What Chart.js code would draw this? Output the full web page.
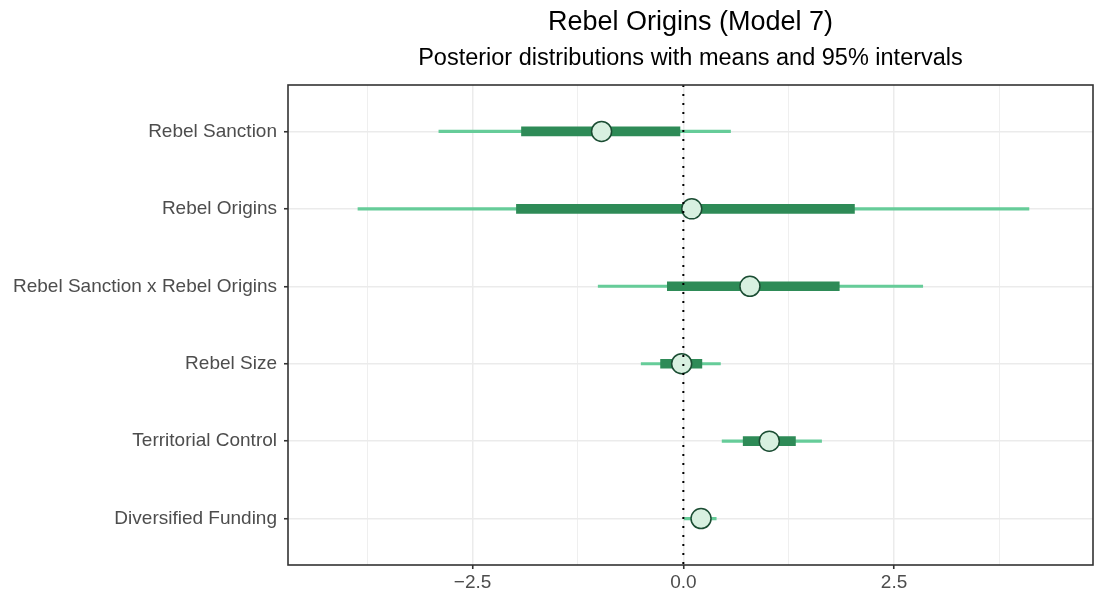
<!DOCTYPE html>
<html>
<head>
<meta charset="utf-8">
<script src="https://cdn.jsdelivr.net/npm/chart.js@4.4.0/dist/chart.umd.min.js"></script>
<style>
  html, body { margin: 0; padding: 0; background: #fff; }
</style>
</head>
<body>
<canvas id="myChart" width="1094" height="596"></canvas>
<script>
// model terms, top to bottom
const terms = ['Rebel Sanction', 'Rebel Origins', 'Rebel Sanction x Rebel Origins',
               'Rebel Size', 'Territorial Control', 'Diversified Funding'];
// posterior means
const means = [-0.97, 0.10, 0.79, -0.02, 1.02, 0.21];
// inner (thick) interval
const innerLow  = [-1.92, -1.98, -0.19, -0.27, 0.71, 0.11];
const innerHigh = [-0.04,  2.03,  1.85,  0.22, 1.33, 0.31];
// 95% interval (thin)
const outerLow  = [-2.90, -3.86, -1.01, -0.50, 0.46, 0.01];
const outerHigh = [ 0.56,  4.10,  2.84,  0.44, 1.64, 0.39];
// x axis ticks, labels only on the major ones
const xTicks  = [-3.75, -2.5, -1.25, 0, 1.25, 2.5, 3.75];
const xLabels = ['', '\u22122.5', '', '0.0', '', '2.5', ''];

const FONT = '"Liberation Sans", Arial, Helvetica, sans-serif';

// panel border, dotted zero line and the two title lines
const framePlugin = {
    id: 'frame',
    afterDatasetsDraw(chart) {
        const { ctx, chartArea: a, scales: { x } } = chart;
        const zx = x.getPixelForValue(0);
        ctx.save();
        ctx.strokeStyle = '#000';
        ctx.lineWidth = 2;
        ctx.setLineDash([2, 7]);
        ctx.beginPath();
        ctx.moveTo(zx, a.top);
        ctx.lineTo(zx, a.bottom);
        ctx.stroke();
        ctx.setLineDash([]);
        ctx.strokeStyle = '#333';
        ctx.lineWidth = 1.6;
        ctx.strokeRect(a.left, a.top, a.right - a.left, a.bottom - a.top);
        ctx.restore();
    },
    afterDraw(chart) {
        const { ctx, chartArea: a } = chart;
        const cx = (a.left + a.right) / 2;
        ctx.save();
        ctx.fillStyle = '#000';
        ctx.textAlign = 'center';
        ctx.textBaseline = 'middle';
        ctx.font = '27px ' + FONT;
        ctx.fillText('Rebel Origins (Model 7)', cx, 23);
        ctx.font = '23.5px ' + FONT;
        ctx.fillText('Posterior distributions with means and 95% intervals', cx, 59);
        ctx.restore();
    }
};

const ctx = document.getElementById('myChart').getContext('2d');
const myChart = new Chart(ctx, {
    type: 'bar',
    data: {
        datasets: [{
            type: 'scatter',
            data: means.map((m, i) => ({ x: m, y: i })),
            pointRadius: 10,
            pointBackgroundColor: '#d8f0e0',
            pointBorderColor: '#1b4d33',
            pointBorderWidth: 1.5,
            order: 0
        }, {
            indexAxis: 'y',
            data: innerLow.map((lo, i) => ({ x: [lo, innerHigh[i]], y: i })),
            backgroundColor: '#2e8b57',
            barThickness: 9,
            grouped: false,
            order: 1
        }, {
            indexAxis: 'y',
            data: outerLow.map((lo, i) => ({ x: [lo, outerHigh[i]], y: i })),
            backgroundColor: '#66cc99',
            barThickness: 2.5,
            grouped: false,
            order: 2
        }]
    },
    options: {
        responsive: false,
        devicePixelRatio: 1,
        animation: false,
        layout: { autoPadding: false, padding: { top: 85, right: 1, bottom: 0, left: 0 } },
        plugins: { legend: { display: false }, tooltip: { enabled: false }, title: { display: false } },
        scales: {
            x: {
                type: 'linear',
                offset: false,
                min: -4.69,
                max: 4.86,
                afterBuildTicks: scale => { scale.ticks = xTicks.map(v => ({ value: v })); },
                afterFit: scale => { scale.height = 31; },
                ticks: {
                    callback: (v, i) => xLabels[i],
                    autoSkip: false,
                    maxRotation: 0,
                    padding: 2,
                    color: '#4d4d4d',
                    font: { family: FONT, size: 19 }
                },
                grid: {
                    offset: false,
                    color: '#ebebeb',
                    lineWidth: c => xLabels[c.index] ? 1.5 : 0.8,
                    tickColor: c => xLabels[c.index] ? '#333' : 'rgba(0,0,0,0)',
                    tickLength: 4,
                    tickWidth: 1.6
                },
                border: { display: false }
            },
            y: {
                type: 'linear',
                offset: false,
                reverse: true,
                min: -0.6,
                max: 5.6,
                afterBuildTicks: scale => { scale.ticks = terms.map((t, i) => ({ value: i })); },
                afterFit: scale => { scale.width = 288; },
                ticks: {
                    callback: v => terms[v],
                    autoSkip: false,
                    padding: 7,
                    color: '#4d4d4d',
                    font: { family: FONT, size: 19 }
                },
                grid: {
                    offset: false,
                    color: '#ebebeb',
                    lineWidth: 1.5,
                    tickColor: '#333',
                    tickLength: 4,
                    tickWidth: 1.6
                },
                border: { display: false }
            }
        }
    },
    plugins: [framePlugin]
});
</script>
</body>
</html>
